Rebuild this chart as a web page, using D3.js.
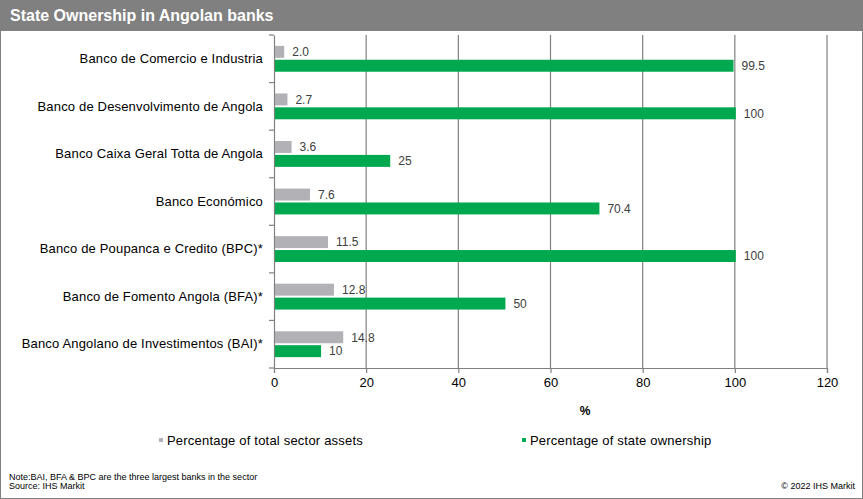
<!DOCTYPE html>
<html>
<head>
<meta charset="utf-8">
<script src="https://cdn.jsdelivr.net/npm/d3@7"></script>
<style>
  body { margin: 0; background: #fff; }
  svg { font-family: "Liberation Sans", Arial, sans-serif; }
</style>
</head>
<body>
<div id="chart"></div>
<script>
var banks = [
  'Banco de Comercio e Industria',
  'Banco de Desenvolvimento de Angola',
  'Banco Caixa Geral Totta de Angola',
  'Banco Económico',
  'Banco de Poupanca e Credito (BPC)*',
  'Banco de Fomento Angola (BFA)*',
  'Banco Angolano de Investimentos (BAI)*'
];
var sectorAssets = [2.0, 2.7, 3.6, 7.6, 11.5, 12.8, 14.8];
var stateOwnership = [99.5, 100, 25, 70.4, 100, 50, 10];
var assetLabels = ['2.0', '2.7', '3.6', '7.6', '11.5', '12.8', '14.8'];
var ownershipLabels = ['99.5', '100', '25', '70.4', '100', '50', '10'];
var seriesNames = ['Percentage of total sector assets', 'Percentage of state ownership'];
var seriesColors = ['#b2b2b6', '#00a94f'];
var xTicks = [0, 20, 40, 60, 80, 100, 120];

var W = 863, H = 499;
var plot = {left: 274, right: 827, top: 35, bottom: 368};
var gridColor = '#808080';
var textColor = '#404040';

var svg = d3.select('#chart').append('svg')
  .attr('width', W)
  .attr('height', H);

// frame and title bar
svg.append('rect')
  .attr('x', 0.5).attr('y', 0.5)
  .attr('width', W - 1).attr('height', H - 1)
  .attr('fill', '#fff')
  .attr('stroke', gridColor);

svg.append('rect')
  .attr('x', 0).attr('y', 0)
  .attr('width', W).attr('height', 31)
  .attr('fill', '#808080');

svg.append('text')
  .attr('x', 10).attr('y', 21)
  .attr('fill', '#fff')
  .attr('font-size', 16)
  .attr('font-weight', 'bold')
  .text('State Ownership in Angolan banks');

var x = d3.scaleLinear()
  .domain([0, 120])
  .range([plot.left, plot.right]);

var y = d3.scaleBand()
  .domain(banks)
  .range([plot.top, plot.bottom]);

var sub = d3.scaleBand()
  .domain([0, 1])
  .range([0, y.bandwidth()])
  .paddingInner(0.14)
  .paddingOuter(0.78);

// vertical gridlines
svg.append('g')
  .selectAll('line')
  .data(xTicks.slice(1))
  .join('line')
  .attr('x1', d => x(d)).attr('x2', d => x(d))
  .attr('y1', plot.top).attr('y2', plot.bottom)
  .attr('stroke', gridColor)
  .attr('stroke-width', 1.2);

// x axis
var xAxis = svg.append('g')
  .attr('transform', 'translate(0,' + plot.bottom + ')')
  .call(d3.axisBottom(x).tickValues(xTicks).tickSize(5).tickPadding(5));
xAxis.select('.domain').attr('stroke', gridColor).attr('stroke-width', 1.2);
xAxis.selectAll('.tick line').attr('stroke', gridColor).attr('stroke-width', 1.2);
xAxis.selectAll('.tick text')
  .attr('font-size', 13)
  .attr('fill', '#000')
  .attr('font-family', '"Liberation Sans", Arial, sans-serif');

// y axis
var yAxis = svg.append('g')
  .attr('transform', 'translate(' + plot.left + ',0)')
  .call(d3.axisLeft(y).tickSize(0).tickPadding(11));
yAxis.select('.domain').attr('stroke', gridColor).attr('stroke-width', 1.2);
yAxis.selectAll('.tick text')
  .attr('font-size', 13)
  .attr('letter-spacing', '0.17px')
  .attr('fill', '#000')
  .attr('font-family', '"Liberation Sans", Arial, sans-serif');

// y tick marks between categories
svg.append('g')
  .selectAll('line')
  .data(d3.range(banks.length + 1))
  .join('line')
  .attr('x1', plot.left - 5).attr('x2', plot.left)
  .attr('y1', i => plot.top + i * y.step())
  .attr('y2', i => plot.top + i * y.step())
  .attr('stroke', gridColor)
  .attr('stroke-width', 1.2);

var rows = banks.map(function(b, i) {
  return {bank: b, values: [sectorAssets[i], stateOwnership[i]], labels: [assetLabels[i], ownershipLabels[i]]};
});

var groups = svg.append('g')
  .selectAll('g')
  .data(rows)
  .join('g')
  .attr('transform', d => 'translate(0,' + y(d.bank) + ')');

groups.selectAll('rect')
  .data(d => d.values.map((v, k) => ({k: k, v: v})))
  .join('rect')
  .attr('x', x(0) + 1)
  .attr('y', d => sub(d.k))
  .attr('width', d => x(d.v) - x(0))
  .attr('height', sub.bandwidth())
  .attr('fill', d => seriesColors[d.k]);

groups.selectAll('text')
  .data(d => d.values.map((v, k) => ({k: k, v: v, label: d.labels[k]})))
  .join('text')
  .attr('x', d => x(d.v) + 9)
  .attr('y', d => sub(d.k) + sub.bandwidth() / 2)
  .attr('dy', '0.36em')
  .attr('font-size', 12)
  .attr('fill', textColor)
  .text(d => d.label);

// x axis title
svg.append('text')
  .attr('x', 585).attr('y', 415)
  .attr('text-anchor', 'middle')
  .attr('font-size', 12)
  .attr('font-weight', 'bold')
  .text('%');

// legend
var legendX = [159, 522];
var legend = svg.append('g')
  .selectAll('g')
  .data(seriesNames)
  .join('g')
  .attr('transform', (d, i) => 'translate(' + legendX[i] + ',440)');
legend.append('rect')
  .attr('x', 0).attr('y', -2)
  .attr('width', 4).attr('height', 4)
  .attr('fill', (d, i) => seriesColors[i]);
legend.append('text')
  .attr('x', 8).attr('y', 0)
  .attr('dy', '0.36em')
  .attr('font-size', 13)
  .attr('letter-spacing', '0.2px')
  .attr('fill', '#000')
  .text(d => d);

// notes
svg.append('text')
  .attr('x', 9).attr('y', 480)
  .attr('font-size', 9)
  .text('Note:BAI, BFA & BPC are the three largest banks in the sector');
svg.append('text')
  .attr('x', 9).attr('y', 489)
  .attr('font-size', 9)
  .text('Source: IHS Markit');
svg.append('text')
  .attr('x', 855).attr('y', 489)
  .attr('text-anchor', 'end')
  .attr('font-size', 9)
  .text('\u00a9 2022  IHS Markit');
</script>
</body>
</html>
